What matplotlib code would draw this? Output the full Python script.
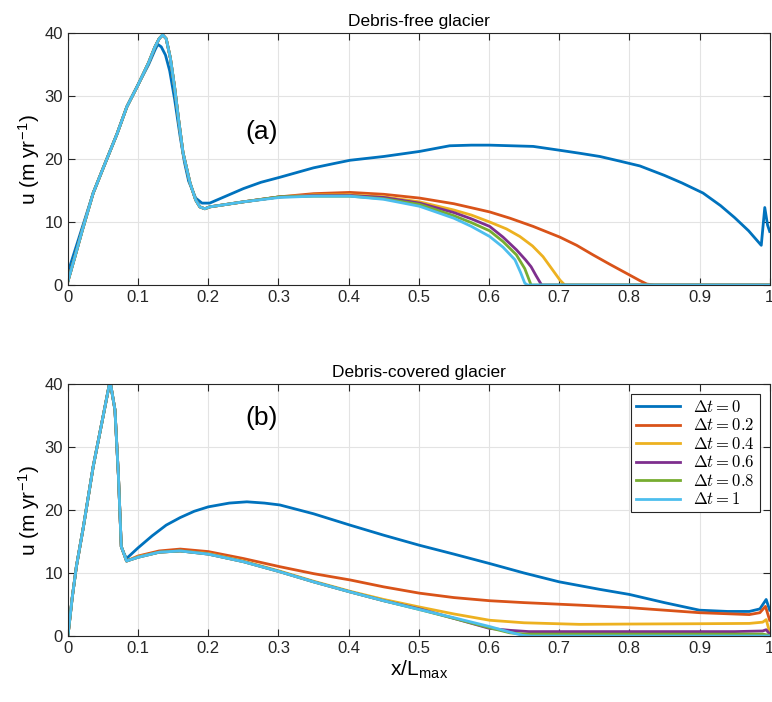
import matplotlib
matplotlib.use('Agg')
import matplotlib.pyplot as plt

plt.rcParams['font.family'] = ['Liberation Sans', 'DejaVu Sans']
plt.rcParams['mathtext.fontset'] = 'cm'

# ---- data ----
labels_dt = [r'$\Delta t = 0$', r'$\Delta t = 0.2$', r'$\Delta t = 0.4$',
             r'$\Delta t = 0.6$', r'$\Delta t = 0.8$', r'$\Delta t = 1$']
colors = ['#0072BD', '#D95319', '#EDB120', '#7E2F8E', '#77AC30', '#4DBEEE']

x_ticks = [0, 0.1, 0.2, 0.3, 0.4, 0.5, 0.6, 0.7, 0.8, 0.9, 1.0]
x_tick_labels = ['0', '0.1', '0.2', '0.3', '0.4', '0.5', '0.6', '0.7', '0.8', '0.9', '1']
y_ticks = [0, 10, 20, 30, 40]

# (a) debris-free glacier
rise_a_x = [0, 0.01, 0.02, 0.036, 0.05, 0.07, 0.084, 0.1, 0.115, 0.124]
rise_a_u = [0.6, 4.5, 8.5, 14.6, 18.5, 24.0, 28.3, 31.8, 35.3, 37.8]
peak_a_x = [0.13, 0.135, 0.14, 0.146, 0.152, 0.158, 0.164, 0.174, 0.182, 0.188, 0.195, 0.202]

a0_x = [0, 0.01, 0.02, 0.036, 0.05, 0.07, 0.084, 0.1, 0.115, 0.124, 0.128, 0.133, 0.139,
        0.145, 0.152, 0.16, 0.166, 0.172, 0.182, 0.191, 0.202, 0.225, 0.25, 0.275, 0.302,
        0.35, 0.38, 0.402, 0.45, 0.501, 0.544, 0.575, 0.601, 0.663, 0.70, 0.73, 0.758,
        0.785, 0.80, 0.815, 0.85, 0.875, 0.905, 0.93, 0.95, 0.97, 0.988, 0.993, 0.997, 1.0]
a0_u = [2.0, 5.5, 9.0, 14.6, 18.5, 24.0, 28.3, 31.8, 35.0, 37.3, 38.2, 37.8, 36.5,
        34.0, 29.5, 23.5, 19.5, 16.5, 13.8, 13.0, 13.0, 14.1, 15.3, 16.3, 17.1,
        18.6, 19.3, 19.8, 20.4, 21.2, 22.1, 22.2, 22.2, 22.0, 21.4, 20.9, 20.4,
        19.7, 19.3, 18.9, 17.4, 16.2, 14.6, 12.6, 10.7, 8.6, 6.3, 12.3, 9.5, 8.5]

a02_x = [0.25, 0.302, 0.35, 0.402, 0.45, 0.501, 0.55, 0.601, 0.63, 0.663, 0.701, 0.725,
         0.748, 0.772, 0.796, 0.815, 0.825, 0.835, 1.0]
a02_u = [13.2, 14.0, 14.5, 14.7, 14.4, 13.8, 12.9, 11.6, 10.6, 9.3, 7.6, 6.3,
         4.8, 3.3, 1.85, 0.7, 0.15, 0.0, 0.0]

a04_x = [0.25, 0.302, 0.35, 0.402, 0.45, 0.501, 0.55, 0.575, 0.601, 0.625, 0.644, 0.662,
         0.677, 0.69, 0.701, 0.708, 1.0]
a04_u = [13.2, 14.0, 14.3, 14.3, 14.0, 13.2, 11.9, 11.1, 10.0, 8.9, 7.7, 6.2,
         4.5, 2.5, 0.8, 0.0, 0.0]

a06_x = [0.25, 0.302, 0.35, 0.402, 0.45, 0.501, 0.55, 0.575, 0.601, 0.62, 0.639, 0.652,
         0.66, 0.667, 0.675, 1.0]
a06_u = [13.2, 14.0, 14.2, 14.2, 13.9, 13.0, 11.5, 10.5, 9.3, 7.6, 5.6, 4.0,
         2.9, 1.5, 0.0, 0.0]

a08_x = [0.25, 0.302, 0.35, 0.402, 0.45, 0.501, 0.55, 0.575, 0.601, 0.62, 0.639, 0.651,
         0.66, 1.0]
a08_u = [13.2, 14.0, 14.1, 14.1, 13.7, 12.8, 11.0, 9.9, 8.6, 6.9, 4.8, 2.6,
         0.0, 0.0]

a1_x = [0.25, 0.302, 0.35, 0.402, 0.45, 0.501, 0.55, 0.575, 0.601, 0.62, 0.637, 0.645,
        0.651, 0.655, 1.0]
a1_u = [13.2, 13.9, 14.1, 14.1, 13.6, 12.5, 10.6, 9.3, 7.7, 6.0, 4.0, 2.0,
        0.3, 0.0, 0.0]

peak_a_u = [39.1, 39.7, 39.1, 36.0, 31.4, 26.0, 21.0, 16.2, 13.5, 12.4, 12.1, 12.4]

# (b) debris-covered glacier
rise_b_x = [0, 0.006, 0.012, 0.022, 0.036, 0.05, 0.06, 0.067, 0.072, 0.076, 0.079, 0.0835]
rise_b_u = [0, 6.0, 11.0, 17.3, 26.9, 34.8, 40.5, 35.9, 25.3, 14.2, 13.3, 11.9]

b0_x = [0.1, 0.12, 0.14, 0.16, 0.18, 0.2, 0.23, 0.255, 0.28, 0.302, 0.35, 0.402, 0.45,
        0.501, 0.55, 0.601, 0.65, 0.70, 0.758, 0.80, 0.85, 0.90, 0.94, 0.971, 0.986,
        0.995, 1.0]
b0_u = [14.0, 15.9, 17.6, 18.8, 19.8, 20.5, 21.1, 21.3, 21.1, 20.8, 19.4, 17.6, 16.0,
        14.4, 13.0, 11.5, 10.0, 8.6, 7.4, 6.6, 5.3, 4.1, 3.9, 3.9, 4.3,
        5.8, 4.1]

b02_x = [0.1, 0.13, 0.16, 0.2, 0.25, 0.302, 0.35, 0.402, 0.45, 0.501, 0.55, 0.601,
         0.65, 0.729, 0.8, 0.9, 0.971, 0.986, 0.994, 1.0]
b02_u = [12.7, 13.5, 13.8, 13.4, 12.3, 11.0, 9.9, 8.9, 7.8, 6.8, 6.1, 5.6,
         5.3, 4.9, 4.5, 3.7, 3.4, 3.7, 4.7, 2.5]

b04_x = [0.1, 0.13, 0.16, 0.2, 0.25, 0.302, 0.35, 0.402, 0.45, 0.501, 0.55, 0.601,
         0.65, 0.729, 0.8, 0.9, 0.971, 0.99, 0.995, 1.0]
b04_u = [12.6, 13.3, 13.5, 13.1, 11.9, 10.3, 8.7, 7.1, 5.8, 4.6, 3.5, 2.5,
         2.1, 1.85, 1.9, 1.95, 2.0, 2.2, 2.6, 0.6]

b06_x = [0.1, 0.13, 0.16, 0.2, 0.25, 0.302, 0.35, 0.402, 0.45, 0.501, 0.55, 0.601,
         0.63, 0.657, 0.8, 0.95, 0.99, 0.995, 1.0]
b06_u = [12.5, 13.3, 13.5, 13.0, 11.8, 10.2, 8.6, 7.0, 5.6, 4.3, 2.8, 1.2,
         0.9, 0.7, 0.7, 0.7, 0.8, 1.0, 0.3]

b08_x = [0.1, 0.13, 0.16, 0.2, 0.25, 0.302, 0.35, 0.402, 0.45, 0.501, 0.55, 0.601,
         0.63, 0.65, 0.99, 1.0]
b08_u = [12.5, 13.3, 13.5, 13.0, 11.8, 10.2, 8.6, 7.0, 5.6, 4.2, 2.8, 1.3,
         0.5, 0.3, 0.3, 0.1]

b1_x = [0.1, 0.13, 0.16, 0.2, 0.25, 0.302, 0.35, 0.402, 0.45, 0.501, 0.55, 0.601,
        0.63, 0.648, 0.66, 1.0]
b1_u = [12.5, 13.3, 13.5, 13.0, 11.8, 10.2, 8.6, 7.0, 5.6, 4.2, 2.9, 1.5,
        0.6, 0.1, 0.0, 0.0]

common_a_x = rise_a_x + peak_a_x
common_a_u = rise_a_u + peak_a_u
panel_a = [(a0_x, a0_u),
           (common_a_x + a02_x, common_a_u + a02_u),
           (common_a_x + a04_x, common_a_u + a04_u),
           (common_a_x + a06_x, common_a_u + a06_u),
           (common_a_x + a08_x, common_a_u + a08_u),
           (common_a_x + a1_x, common_a_u + a1_u)]
panel_b = [(rise_b_x + b0_x, rise_b_u[:-1] + [12.3] + b0_u),
           (rise_b_x + b02_x, rise_b_u + b02_u), (rise_b_x + b04_x, rise_b_u + b04_u),
           (rise_b_x + b06_x, rise_b_u + b06_u), (rise_b_x + b08_x, rise_b_u + b08_u),
           (rise_b_x + b1_x, rise_b_u + b1_u)]

fig = plt.figure(figsize=(7.72, 7.02), dpi=100)
ax1 = fig.add_axes([0.088, 0.594, 0.909, 0.359])
ax2 = fig.add_axes([0.088, 0.094, 0.909, 0.359])

for ax, panel, title, tag, ty in [(ax1, panel_a, 'Debris-free glacier', '(a)', 0.608),
                                  (ax2, panel_b, 'Debris-covered glacier', '(b)', 0.865)]:
    for (xs, us), c, lab in zip(panel, colors, labels_dt):
        ax.plot(xs, us, color=c, lw=2, label=lab, solid_joinstyle='round')
    ax.set_xlim(0, 1)
    ax.set_ylim(0, 40)
    ax.set_xticks(x_ticks)
    ax.set_xticklabels(x_tick_labels)
    ax.set_yticks(y_ticks)
    ax.grid(True, color='#e3e3e3', lw=0.8)
    ax.set_axisbelow(True)
    ax.tick_params(direction='in', top=True, right=True, length=5, width=0.8,
                   colors='#262626', labelsize=12)
    for s in ax.spines.values():
        s.set_color('#262626')
        s.set_linewidth(0.8)
    ax.set_title(title, fontsize=12.5, pad=5)
    ax.set_ylabel(r'u (m yr$^{\mathregular{-1}}$)', fontsize=15, labelpad=1)
    ax.text(0.276, ty, tag, transform=ax.transAxes,
            fontsize=19, ha='center', va='center')

ax2.set_xlabel(r'x/L$_{\mathregular{max}}$', fontsize=15, labelpad=2)
leg = ax2.legend(loc='upper right', fontsize=12, fancybox=False, edgecolor='#262626',
                 framealpha=1, handlelength=2.6, borderpad=0.3, labelspacing=0.15,
                 borderaxespad=0.6)
leg.get_frame().set_linewidth(0.8)

fig.savefig('out.png', dpi=100)
